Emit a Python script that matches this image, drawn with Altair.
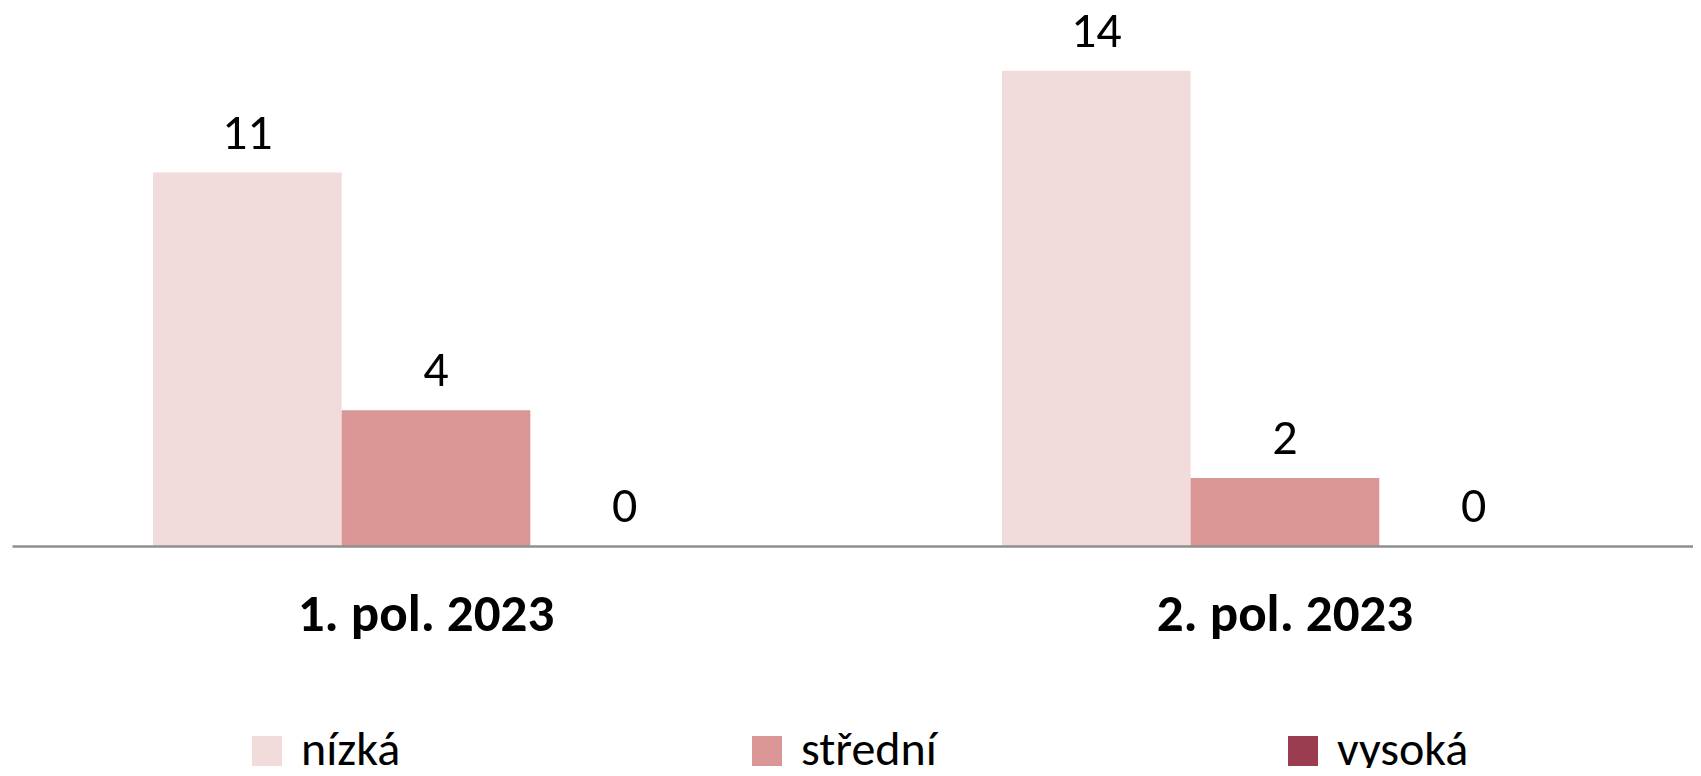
import altair as alt
import pandas as pd

FONT = "Carlito, Calibri, Lato, sans-serif"

periods = ["1. pol. 2023", "2. pol. 2023"]
levels = ["nízká", "střední", "vysoká"]
level_colors = ["#f2dcdb", "#d99694", "#9b3d50"]
values_h1 = [11, 4, 0]
values_h2 = [14, 2, 0]

rows = []
for period, vals in zip(periods, [values_h1, values_h2]):
    for lvl, v in zip(levels, vals):
        rows.append({"obdobi": period, "uroven": lvl, "pocet": v})
df = pd.DataFrame(rows)

x_enc = alt.X(
    "obdobi:N",
    sort=periods,
    scale=alt.Scale(paddingInner=0.3333, paddingOuter=0.1567, align=0.53),
    axis=alt.Axis(
        title=None,
        labelAngle=0,
        labelFont=FONT,
        labelFontSize=53,
        labelFontWeight="bold",
        labelColor="#000000",
        labelBaseline="alphabetic",
        labelPadding=84,
        labelLimit=800,
        labelOffset={"condition": {"test": "datum.value == '1. pol. 2023'", "value": -10}, "value": 0},
        ticks=False,
        tickSize=0,
        domainColor="#8f8f8f",
        domainWidth=2.5,
        grid=False,
        zindex=1,
    ),
)
xoff_enc = alt.XOffset("uroven:N", sort=levels, scale=alt.Scale(paddingInner=0, paddingOuter=0))
y_enc = alt.Y("pocet:Q", scale=alt.Scale(domain=[0, 15.79], nice=False, zero=True), axis=None)

base = alt.Chart(df).encode(x=x_enc, xOffset=xoff_enc, y=y_enc)

bars = base.mark_bar().encode(
    color=alt.Color(
        "uroven:N",
        sort=levels,
        scale=alt.Scale(domain=levels, range=level_colors),
        legend=alt.Legend(
            title=None,
            orient="none",
            legendX=231,
            legendY=717,
            direction="horizontal",
            symbolType="square",
            symbolSize=900,
            symbolStrokeWidth=0,
            symbolOpacity=1,
            labelFont=FONT,
            labelFontSize=48,
            labelColor="#000000",
            labelOffset=10,
            labelLimit=400,
            columnPadding=342,
            padding=0,
        ),
    )
)

labels = base.mark_text(
    baseline="alphabetic", align="center", dy=-24, font=FONT, fontSize=50, color="#000000"
).encode(text=alt.Text("pocet:Q"))

chart = (
    alt.layer(bars, labels)
    .properties(
        width=1681,
        height=536,
        padding={"left": 4, "top": 2, "right": 0, "bottom": 222},
        autosize=alt.AutoSizeParams(type="none"),
        view=alt.ViewBackground(strokeWidth=0, stroke="transparent"),
    )
    .configure_view(strokeWidth=0, stroke="transparent")
    .configure(background="#ffffff")
)

chart.save("out.html", embed_options={"renderer": "svg", "actions": False})
